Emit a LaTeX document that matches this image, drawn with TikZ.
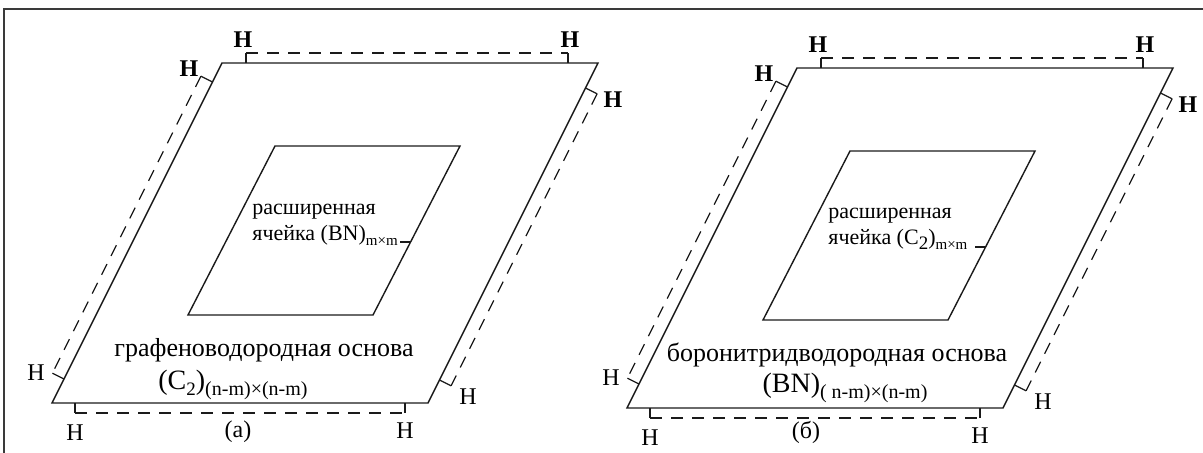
\documentclass[tikz,border=0pt]{standalone}
\usepackage{fontspec}
\setmainfont{Liberation Serif}
\usetikzlibrary{calc}
\definecolor{frameGray}{HTML}{3A3A3A}
\definecolor{plateInk}{HTML}{1A1A1A}
\newcommand{\lowidx}[2]{\raisebox{-0.45ex}{\fontsize{#1}{#1}\selectfont #2}}

\tikzset{
  plate/.style={draw=plateInk,line width=0.7pt},
  hbond/.style={draw=plateInk,line width=0.6pt,dash pattern=on 6pt off 4.5pt},
  htick/.style={draw=plateInk,line width=0.6pt},
  hlab/.style={inner sep=0pt,font=\fontsize{12}{13}\selectfont},
  hlabb/.style={hlab,font=\fontsize{12}{13}\selectfont\bfseries},
  basetext/.style={inner sep=0pt,font=\fontsize{13}{15}\selectfont},
  celltext/.style={inner sep=0pt,align=left,anchor=west,font=\fontsize{11}{13}\selectfont},
}

\begin{document}
\begin{tikzpicture}[x=0.5pt,y=-0.5pt]
  \useasboundingbox (0,0) rectangle (1203,453);
  \clip (0,0) rectangle (1203,453);
  \draw[frameGray,line width=1pt] (4,9) rectangle (1215,465);

  % both plates share the same geometry
  \foreach \p/\dx/\dy in {a/0/0,b/575/5} {
    \begin{scope}[shift={(\dx,\dy)}]
      % outer plate
      \coordinate (\p-TL) at (222,63);
      \coordinate (\p-TR) at (598,63);
      \coordinate (\p-BR) at (428,403);
      \coordinate (\p-BL) at (52,403);
      \draw[plate] (\p-TL) -- (\p-TR) -- (\p-BR) -- (\p-BL) -- cycle;
      % extended cell
      \coordinate (\p-iTL) at (275,146);
      \coordinate (\p-iTR) at (460,146);
      \coordinate (\p-iBR) at (373,315);
      \coordinate (\p-iBL) at (188,315);
      \draw[plate] (\p-iTL) -- (\p-iTR) -- (\p-iBR) -- (\p-iBL) -- cycle;
      \coordinate (\p-k1) at (400,242);
      \coordinate (\p-k2) at (411,242);
      \draw[htick] (\p-k1) -- (\p-k2);
      % hydrogen row, top
      \coordinate (\p-t1) at (246,63);  \coordinate (\p-t1h) at (246,53);
      \coordinate (\p-t2) at (568,63);  \coordinate (\p-t2h) at (568,53);
      \draw[htick] (\p-t1) -- (\p-t1h);
      \draw[htick] (\p-t2) -- (\p-t2h);
      \draw[hbond] (\p-t1h) -- (\p-t2h);
      % hydrogen row, bottom
      \coordinate (\p-b1) at (75,403);  \coordinate (\p-b1h) at (75,413);
      \coordinate (\p-b2) at (405,403); \coordinate (\p-b2h) at (405,413);
      \draw[htick] (\p-b1) -- (\p-b1h);
      \draw[htick] (\p-b2) -- (\p-b2h);
      \draw[hbond] (\p-b1h) -- (\p-b2h);
      % hydrogen row, left
      \coordinate (\p-l1) at (212.5,82); \coordinate (\p-l1h) at (200.9,76.2);
      \coordinate (\p-l2) at (64,379);   \coordinate (\p-l2h) at (52.4,373.2);
      \draw[htick] (\p-l1) -- (\p-l1h);
      \draw[htick] (\p-l2) -- (\p-l2h);
      \draw[hbond] (\p-l1h) -- (\p-l2h);
      % hydrogen row, right
      \coordinate (\p-r1) at (585.5,88);  \coordinate (\p-r1h) at (597.1,93.8);
      \coordinate (\p-r2) at (439.5,380); \coordinate (\p-r2h) at (451.1,385.8);
      \draw[htick] (\p-r1) -- (\p-r1h);
      \draw[htick] (\p-r2) -- (\p-r2h);
      \draw[hbond] (\p-r1h) -- (\p-r2h);
      % H labels
      \node[hlabb] (\p-H1) at (243,40) {H};
      \node[hlabb] (\p-H2) at (570,40) {H};
      \node[hlabb] (\p-H3) at (189,69) {H};
      \node[hlab] (\p-H4) at (36,373) {H};
      \node[hlabb] (\p-H5) at (613,100) {H};
      \node[hlab] (\p-H6) at (468,397) {H};
      \node[hlab] (\p-H7) at (75,433) {H};
      \node[hlab] (\p-H8) at (405,431) {H};
    \end{scope}
  }

  % texts of plate (a)
  \node[celltext] (a-cell) at (252,225) {расширенная\\ячейка (BN)\lowidx{7.5}{m×m}};
  \node[basetext] (a-name) at (264,350) {графеноводородная основа};
  \node[basetext,font=\fontsize{14}{15}\selectfont] (a-form) at (233,385)
    {(C\lowidx{9.5}{2})\lowidx{10}{(n-m)×(n-m)}};
  \node[hlab] (a-cap) at (238,432) {(а)};

  % texts of plate (b)
  \node[celltext] (b-cell) at (828,229) {расширенная\\ячейка (C\lowidx{9.5}{2})\lowidx{7.5}{m×m}};
  \node[basetext] (b-name) at (837,355) {боронитридводородная основа};
  \node[basetext,font=\fontsize{14}{15}\selectfont] (b-form) at (845,388)
    {(BN)\lowidx{10}{( n-m)×(n-m)}};
  \node[hlab] (b-cap) at (806,432) {(б)};
\end{tikzpicture}
\end{document}
